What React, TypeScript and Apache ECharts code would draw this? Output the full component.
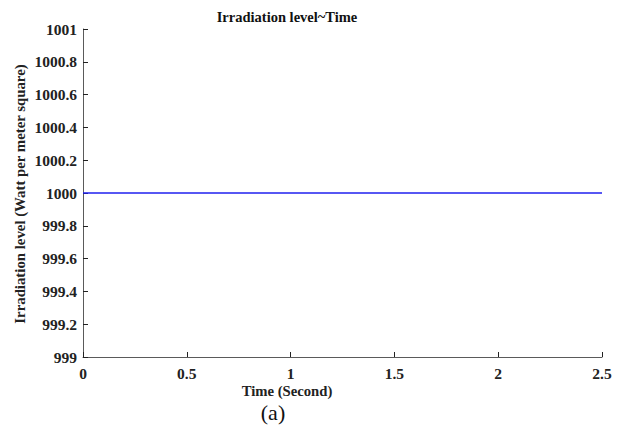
import React, { useEffect, useRef } from "react";
import * as echarts from "echarts";

const timeSeconds = [0, 0.5, 1, 1.5, 2, 2.5];
const irradiation = [1000, 1000, 1000, 1000, 1000, 1000];
const titleText = "Irradiation level~Time";
const xName = "Time (Second)";
const yName = "Irradiation level (Watt per meter square)";
const captionText = "(a)";

const FONT = "Liberation Serif";

export default function App() {
  const ref = useRef<HTMLDivElement>(null);
  useEffect(() => {
    if (!ref.current) return;
    const chart = echarts.init(ref.current, undefined, { renderer: "svg" });
    chart.setOption({
      animation: false,
      backgroundColor: "#ffffff",
      textStyle: { fontFamily: FONT },
      grid: { left: 83, right: 22, top: 29, bottom: 78 },
      xAxis: {
        type: "value",
        min: 0,
        max: 2.5,
        interval: 0.5,
        axisLine: { lineStyle: { color: "#5a5a5a", width: 1 } },
        axisTick: { inside: true, length: 5, lineStyle: { color: "#222" } },
        axisLabel: {
          color: "#222",
          fontFamily: FONT,
          fontWeight: "bold",
          fontSize: 15.5,
          margin: 8,
          formatter: (v: number) => String(+v.toFixed(1)),
        },
        splitLine: { show: false },
      },
      yAxis: {
        type: "value",
        min: 999,
        max: 1001,
        interval: 0.2,
        axisLine: { show: true, lineStyle: { color: "#5a5a5a", width: 1 } },
        axisTick: { show: true, inside: true, length: 5, lineStyle: { color: "#222" } },
        axisLabel: {
          color: "#222",
          fontFamily: FONT,
          fontWeight: "bold",
          fontSize: 15.5,
          margin: 6,
          formatter: (v: number) => String(+v.toFixed(1)),
        },
        splitLine: { show: false },
      },
      graphic: [
        {
          type: "text",
          x: 287,
          y: 17,
          style: {
            text: titleText,
            font: `bold 14.5px ${FONT}`,
            fill: "#111",
            align: "center",
            verticalAlign: "middle",
          },
        },
        {
          type: "text",
          x: 287,
          y: 391,
          style: {
            text: xName,
            font: `bold 14.7px ${FONT}`,
            fill: "#222",
            align: "center",
            verticalAlign: "middle",
          },
        },
        {
          type: "text",
          x: 20,
          y: 194,
          rotation: Math.PI / 2,
          style: {
            text: yName,
            font: `bold 14.8px ${FONT}`,
            fill: "#222",
            align: "center",
            verticalAlign: "middle",
          },
        },
        {
          type: "text",
          x: 273,
          y: 412,
          style: {
            text: captionText,
            font: `22px ${FONT}`,
            fill: "#111",
            align: "center",
            verticalAlign: "middle",
          },
        },
      ],
      series: [
        {
          type: "line",
          data: timeSeconds.map((t, i) => [t, irradiation[i]]),
          showSymbol: false,
          lineStyle: { color: "#2020f0", width: 1.4 },
        },
      ],
    });
    return () => chart.dispose();
  }, []);
  return (
    <div
      ref={ref}
      style={{ position: "fixed", left: 0, top: 0, width: 624, height: 435 }}
    />
  );
}
